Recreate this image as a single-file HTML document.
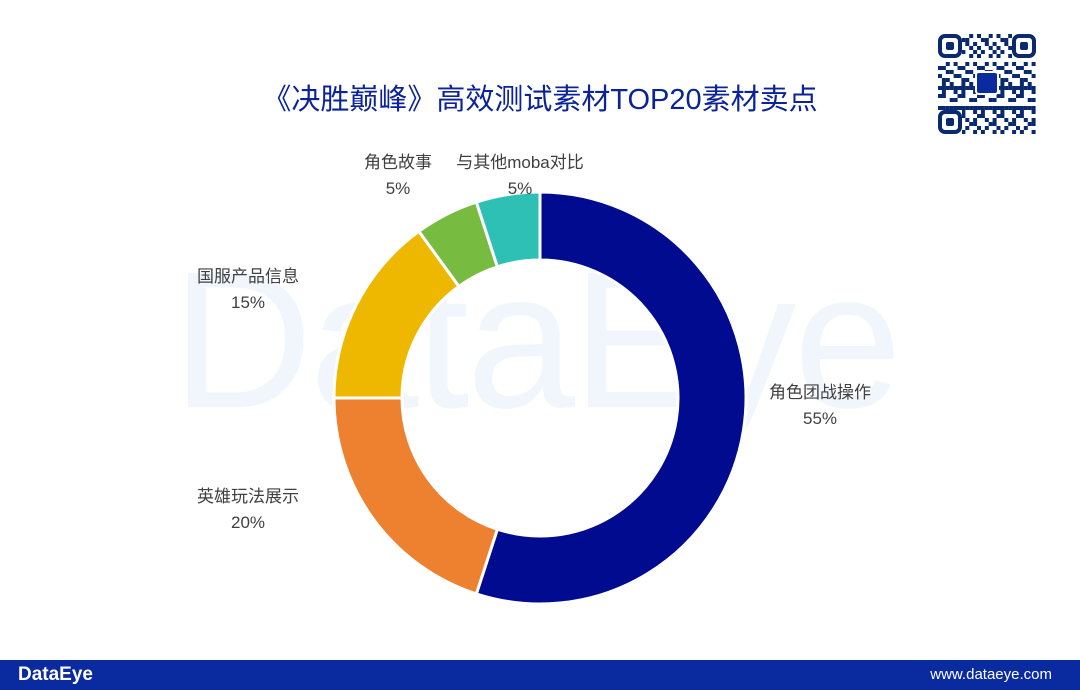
<!DOCTYPE html>
<html><head><meta charset="utf-8"><style>
body{margin:0;width:1080px;height:690px;background:#fff;position:relative;overflow:hidden;font-family:"Liberation Sans","Noto Sans CJK SC",sans-serif}
.t{position:absolute;white-space:nowrap;color:#404040;font-size:17px;text-align:center;line-height:26px}
</style></head><body>
<div style="position:absolute;left:172px;top:228px;font-size:195px;font-weight:normal;color:#f0f6fc;letter-spacing:-3px;font-family:'Liberation Sans',sans-serif">DataEye</div>
<div style="position:absolute;left:0;width:1080px;top:76px;text-align:center;font-size:29px;color:#0b2398;padding-right:2px">《决胜巅峰》高效测试素材TOP20素材卖点</div>
<svg style="position:absolute;left:938px;top:34px" width="98" height="100" id="qr"></svg>
<svg id="chart" style="position:absolute;left:0;top:0" width="1080" height="690"></svg>
<div style="position:absolute;left:0;top:660px;width:1080px;height:30px;background:#0a2a9f">
<div style="position:absolute;left:18px;top:4px;color:#fff;font-size:19px;font-weight:bold">DataEye</div>
<div style="position:absolute;right:28px;top:6px;color:#fff;font-size:15px">www.dataeye.com</div>
</div>
<script>
const categories=["角色团战操作","英雄玩法展示","国服产品信息","角色故事","与其他moba对比"];
const values=[55,20,15,5,5];
const colors=["#000b8f","#ee8130","#eeb800","#77bb40","#2fc0b5"];
const labelPos=[[820,406],[248,510],[248,290],[398,176],[520,176]];
const cx=540,cy=398,R=206,r=138;
const ns="http://www.w3.org/2000/svg";
const svg=document.getElementById("chart");
const total=values.reduce((a,b)=>a+b,0);
let a0=0;
function pt(a,rad){return [cx+rad*Math.sin(a),cy-rad*Math.cos(a)];}
values.forEach((v,i)=>{
  const a1=a0+v/total*2*Math.PI;
  const [x1,y1]=pt(a0,R),[x2,y2]=pt(a1,R),[x3,y3]=pt(a1,r),[x4,y4]=pt(a0,r);
  const lg=(a1-a0)>Math.PI?1:0;
  const p=document.createElementNS(ns,"path");
  p.setAttribute("d",`M${x1},${y1}A${R},${R} 0 ${lg} 1 ${x2},${y2}L${x3},${y3}A${r},${r} 0 ${lg} 0 ${x4},${y4}Z`);
  p.setAttribute("fill",colors[i]);p.setAttribute("stroke","#fff");p.setAttribute("stroke-width","3");
  
  
  svg.appendChild(p);
  const d=document.createElement("div");d.className="t";
  d.innerHTML=categories[i]+"<br>"+v+"%";
  d.style.left=(labelPos[i][0]-80)+"px";d.style.width="160px";d.style.top=(labelPos[i][1]-26)+"px";
  
  
  document.body.appendChild(d);
  a0=a1;
});
const q=document.getElementById("qr");let s="";
const seed=[7,3,11,5,13,2,9,6,1,12,4,8,10];
for(let y=0;y<25;y++)for(let x=0;x<25;x++){if(((x*seed[y%13]+y*7+x*y)%5)<2)s+=`<rect x="${x*3.9}" y="${y*4}" width="4" height="4" fill="#0a2a6f"/>`;}
[[0,0],[74,0],[0,76]].forEach(([x,y])=>{s+=`<rect x="${x}" y="${y}" width="24" height="24" fill="#fff"/><rect x="${x+2}" y="${y+2}" width="20" height="20" rx="5" fill="none" stroke="#0a2a6f" stroke-width="4"/><rect x="${x+8}" y="${y+8}" width="8" height="8" rx="2" fill="#0a2a6f"/>`;});
s+=`<rect x="38" y="38" width="22" height="22" rx="3" fill="#0a2a9f" stroke="#fff" stroke-width="2"/>`;
q.innerHTML=s;
</script>
</body></html>
